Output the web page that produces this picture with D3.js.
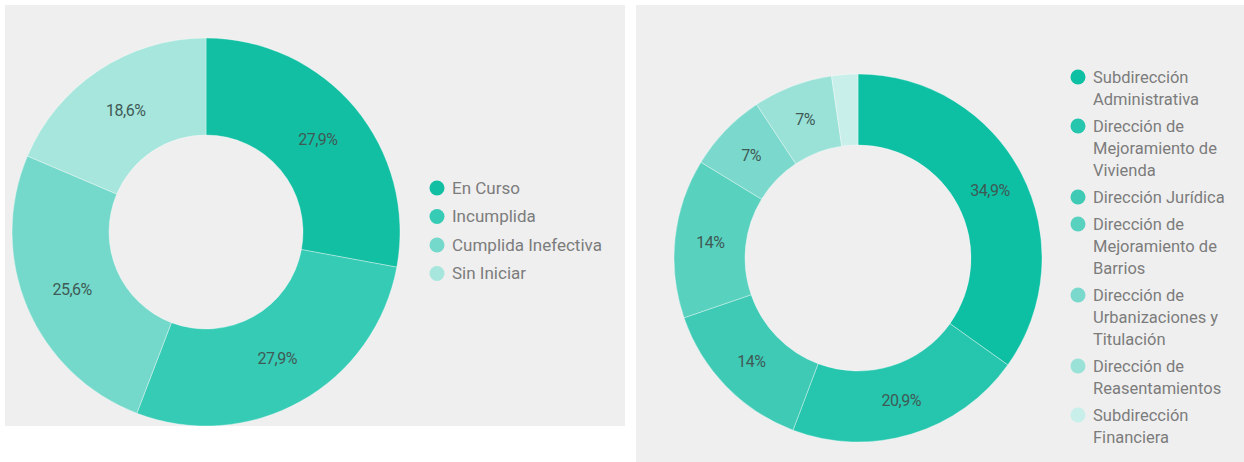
<!DOCTYPE html>
<html>
<head>
<meta charset="utf-8">
<script src="https://cdn.jsdelivr.net/npm/d3@7"></script>
<style>
  body { margin: 0; background: #fff; font-family: Roboto, "Noto Sans", sans-serif; }
  svg { display: block; }
</style>
</head>
<body>
<svg id="chart" width="1244" height="462"></svg>
<script>
// Left chart: estado de las acciones
const estadoCategories = ['En Curso', 'Incumplida', 'Cumplida Inefectiva', 'Sin Iniciar'];
const estadoValues = [27.9, 27.9, 25.6, 18.6];
const estadoLabels = ['27,9%', '27,9%', '25,6%', '18,6%'];
const estadoColors = ['#13bfa3', '#36cbb5', '#74d9ca', '#a6e6dc'];

// Right chart: dependencias responsables
const depCategories = [
  'Subdirección Administrativa',
  'Dirección de Mejoramiento de Vivienda',
  'Dirección Jurídica',
  'Dirección de Mejoramiento de Barrios',
  'Dirección de Urbanizaciones y Titulación',
  'Dirección de Reasentamientos',
  'Subdirección Financiera',
];
const depValues = [34.9, 20.9, 14, 14, 7, 7, 2.3];
const depLabels = ['34,9%', '20,9%', '14%', '14%', '7%', '7%', ''];
const depColors = ['#0dbfa3', '#25c6ad', '#3ecab5', '#58d1bf', '#7ad9cc', '#9ae2d8', '#c8efe9'];

const svg = d3.select('#chart');

/**
 * Draw one donut panel with its legend
 */
function donutPanel(conf) {
  const g = svg.append('g');

  // panel background
  g.append('rect')
    .attr('x', conf.panel[0]).attr('y', conf.panel[1])
    .attr('width', conf.panel[2]).attr('height', conf.panel[3])
    .attr('fill', '#efefef');

  const pie = d3.pie().sort(null).value((d) => d);
  const arcs = pie(conf.values);
  const arc = d3.arc().innerRadius(conf.inner).outerRadius(conf.outer);
  const color = d3.scaleOrdinal().domain(conf.categories).range(conf.colors);

  const donut = g.append('g')
    .attr('transform', `translate(${conf.cx}, ${conf.cy})`);

  donut.selectAll('path')
    .data(arcs)
    .enter()
    .append('path')
      .attr('d', arc)
      .attr('fill', (d, i) => color(conf.categories[i]))
      .attr('stroke', 'rgba(255,255,255,0.35)')
      .attr('stroke-width', 1);

  donut.selectAll('text')
    .data(arcs)
    .enter()
    .append('text')
      .attr('transform', (d) => `translate(${arc.centroid(d)})`)
      .attr('text-anchor', 'middle')
      .attr('dy', '0.35em')
      .attr('font-size', 16)
      .attr('letter-spacing', -0.5)
      .attr('fill', '#3f5a55')
      .text((d, i) => conf.labels[i]);

  // legend, wrapped to a max width
  const legend = g.append('g')
    .attr('transform', `translate(${conf.legendX}, ${conf.legendY})`);
  let y = 0;
  conf.categories.forEach((cat, i) => {
    const item = legend.append('g').attr('transform', `translate(0, ${y})`);
    item.append('circle')
      .attr('cx', 0).attr('cy', 0).attr('r', 7.5)
      .attr('fill', color(cat));
    const text = item.append('text')
      .attr('font-size', conf.fontSize)
      .attr('fill', '#7c7c7c');
    const words = cat.split(' ');
    let line = [];
    let lineNo = 0;
    const newLine = (n) => text.append('tspan')
      .attr('x', 15)
      .attr('y', n * conf.lineHeight)
      .attr('dy', '0.35em');
    let tspan = newLine(0);
    words.forEach((w) => {
      line.push(w);
      tspan.text(line.join(' '));
      if (tspan.node().getComputedTextLength() > conf.wrap && line.length > 1) {
        line.pop();
        tspan.text(line.join(' '));
        line = [w];
        lineNo++;
        tspan = newLine(lineNo).text(w);
      }
    });
    y += lineNo * conf.lineHeight + conf.itemGap;
  });
}

donutPanel({
  panel: [5, 5, 620, 421],
  cx: 206, cy: 232, outer: 194, inner: 97,
  categories: estadoCategories, values: estadoValues,
  labels: estadoLabels, colors: estadoColors,
  legendX: 437, legendY: 188, fontSize: 17, wrap: 200,
  lineHeight: 22, itemGap: 28.5,
});

donutPanel({
  panel: [636, 5, 608, 457],
  cx: 858, cy: 258, outer: 184, inner: 113,
  categories: depCategories, values: depValues,
  labels: depLabels, colors: depColors,
  legendX: 1078, legendY: 77, fontSize: 16.5, wrap: 145,
  lineHeight: 22, itemGap: 27,
});
</script>
</body>
</html>
